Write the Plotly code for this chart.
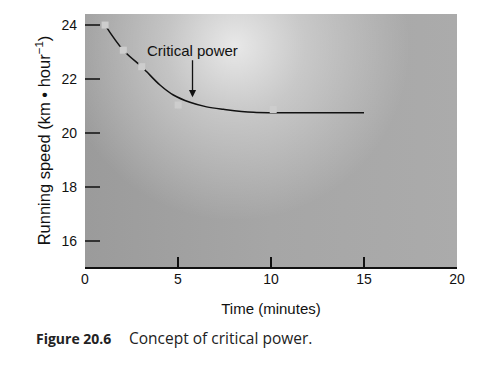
import base64
import plotly.graph_objects as go

# Fitted curve
curve_t = [1.08, 2.06, 3.05, 3.32, 4.03, 4.75, 5.64, 6.54, 7.44, 9.06, 12.63, 15.0]
curve_v = [24.0, 23.07, 22.46, 22.27, 21.78, 21.41, 21.14, 20.97, 20.88, 20.77, 20.75, 20.75]

# Measured points (grey squares)
pts_t = [1.08, 2.06, 3.05, 5.01, 10.12]
pts_v = [24.0, 23.07, 22.46, 21.04, 20.87]

x_ticks = [0, 5, 10, 15, 20]
y_ticks = [16, 18, 20, 22, 24]

# annotation anchor (arrow head)
cp_t, cp_v = 5.78, 21.33

W, H = 484, 370
ML, MR, MT, MB = 85, 27, 14, 103
PW, PH = W - ML - MR, H - MT - MB

svg = f'''<svg xmlns="http://www.w3.org/2000/svg" width="{PW}" height="{PH}" viewBox="0 0 {PW} {PH}" preserveAspectRatio="none">
<defs>
<linearGradient id="b" x1="0" y1="0" x2="1" y2="0">
<stop offset="0" stop-color="#9b9b9b"/><stop offset="0.5" stop-color="#a6a6a6"/><stop offset="1" stop-color="#ababab"/>
</linearGradient>
<radialGradient id="r" gradientUnits="userSpaceOnUse" cx="150" cy="32" r="175">
<stop offset="0" stop-color="#ffffff" stop-opacity="0.75"/>
<stop offset="0.4" stop-color="#ffffff" stop-opacity="0.38"/>
<stop offset="1" stop-color="#ffffff" stop-opacity="0"/>
</radialGradient>
</defs>
<rect width="{PW}" height="{PH}" fill="url(#b)"/>
<rect width="{PW}" height="{PH}" fill="url(#r)"/>
</svg>'''
src = "data:image/svg+xml;base64," + base64.b64encode(svg.encode()).decode()

fig = go.Figure()
fig.add_trace(go.Scatter(
    x=curve_t, y=curve_v, mode="lines",
    line=dict(color="#111111", width=1.5, shape="spline", smoothing=1.0),
    hoverinfo="skip", showlegend=False))
fig.add_trace(go.Scatter(
    x=pts_t, y=pts_v, mode="markers",
    marker=dict(symbol="square", size=7, color="#cdcdcd", line=dict(width=0)),
    showlegend=False))

FONT = "Liberation Sans, Arial, sans-serif"
axis_font = dict(family=FONT, size=14, color="#111111")

fig.update_layout(
    width=W, height=H,
    margin=dict(l=ML, r=MR, t=MT, b=MB, autoexpand=False),
    paper_bgcolor="white",
    plot_bgcolor="#a8a8a8",
    images=[dict(source=src, xref="paper", yref="paper", x=0, y=1,
                 sizex=1, sizey=1, sizing="stretch", layer="below", xanchor="left", yanchor="top")],
    xaxis=dict(range=[0, 20], tickvals=x_ticks, ticks="inside", ticklen=10, tickwidth=1.5,
               tickcolor="#111111", showgrid=False, zeroline=False, showline=True,
               linecolor="#111111", linewidth=2, tickfont=axis_font, automargin=False,
               ticklabelstandoff=-2,
               title=dict(text="Time (minutes)", font=dict(family=FONT, size=15, color="#111111"),
                          standoff=18)),
    yaxis=dict(range=[15.04, 24.41], tickvals=y_ticks, ticks="inside", ticklen=15, tickwidth=1.5,
               tickcolor="#333333", showgrid=False, zeroline=False, showline=False,
               tickfont=axis_font, automargin=False, ticklabelstandoff=7,
               title=dict(text="Running speed (km • hour<sup>−1</sup>)",
                          font=dict(family=FONT, size=16.5, color="#111111"),
                          standoff=6)),
    annotations=[
        dict(x=cp_t, y=cp_v, xref="x", yref="y", text="Critical power",
             showarrow=True, ax=0, ay=-47, arrowhead=2, arrowsize=1.1, arrowwidth=1.3,
             arrowcolor="#111111", standoff=0,
             font=dict(family=FONT, size=15, color="#111111")),
        dict(x=(34 - ML) / PW, y=(MT + PH - 338) / PH, xref="paper", yref="paper",
             xanchor="left", yanchor="middle", showarrow=False,
             text="<b>Figure 20.6</b>",
             font=dict(family="Open Sans, sans-serif", size=14, color="#222222")),
        dict(x=(127 - ML) / PW, y=(MT + PH - 338) / PH, xref="paper", yref="paper",
             xanchor="left", yanchor="middle", showarrow=False,
             text="Concept of critical power.",
             font=dict(family="Open Sans, sans-serif", size=15.5, color="#222222")),
    ],
)

fig.write_html("out.html", config={"displayModeBar": False},
               post_script="document.body.style.margin='0';")
